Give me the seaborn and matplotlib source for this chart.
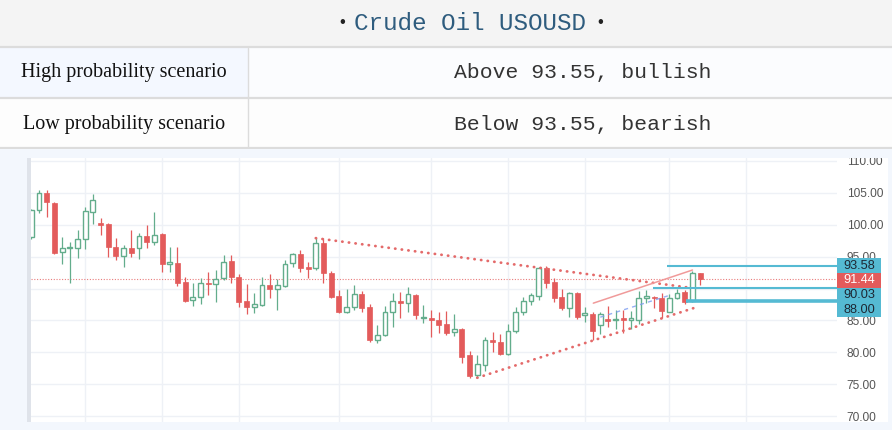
import numpy as np
import matplotlib
matplotlib.use("Agg")
import matplotlib.pyplot as plt
import seaborn as sns
from matplotlib.patches import Rectangle
from matplotlib.transforms import blended_transform_factory

# ---- data ----
opens = [98.1, 102.3, 105.0, 103.4, 95.7, 96.3, 96.4, 97.8, 102.0, 100.3,
         100.1, 96.5, 95.1, 96.4, 96.4, 98.2, 97.3, 98.5, 93.9, 94.0,
         91.0, 88.2, 88.7, 90.9, 90.7, 91.6, 94.3, 91.8, 88.0, 87.1,
         87.4, 90.5, 90.0, 90.4, 94.0, 95.4, 93.3, 93.2, 97.1, 92.4,
         88.8, 86.3, 87.1, 89.1, 87.1, 81.9, 82.7, 86.3, 88.0, 87.7,
         89.0, 85.3, 85.4, 85.1, 84.4, 83.2, 83.6, 79.6, 76.4, 78.0,
         81.9, 81.6, 79.7, 83.3, 86.3, 88.0, 88.8, 93.2, 91.0, 88.7,
         86.9, 89.3, 85.9, 86.0, 84.3, 85.2, 85.0, 85.3, 85.0, 85.1,
         88.5, 88.7, 88.5, 86.3, 88.5, 89.5, 88.0, 92.4]
highs = [102.5, 105.5, 105.5, 103.6, 98.1, 97.3, 99.2, 102.8, 104.8, 101.1,
         100.3, 97.9, 96.8, 99.2, 98.7, 100.0, 102.0, 98.7, 96.5, 96.5,
         91.8, 90.9, 91.6, 92.6, 92.9, 95.2, 95.2, 92.3, 90.7, 89.3,
         91.8, 92.3, 91.5, 94.4, 95.6, 96.0, 94.2, 97.9, 97.9, 92.7,
         89.8, 90.0, 90.5, 89.6, 87.5, 84.3, 87.3, 89.3, 89.4, 90.2,
         89.2, 87.4, 86.6, 86.3, 86.5, 86.0, 83.8, 80.2, 79.6, 82.4,
         83.2, 82.8, 84.5, 87.1, 88.6, 89.3, 93.4, 93.6, 91.7, 90.0,
         89.5, 89.5, 87.1, 86.3, 86.3, 87.3, 86.7, 86.6, 86.4, 89.6,
         89.8, 88.8, 89.3, 89.1, 89.9, 89.8, 92.7, 92.5]
lows = [97.8, 101.8, 101.2, 95.4, 93.8, 90.9, 94.8, 96.2, 100.1, 98.4,
        94.9, 94.5, 93.4, 94.9, 94.6, 96.4, 96.8, 92.6, 92.6, 90.4,
        87.9, 87.3, 87.6, 89.0, 87.9, 91.4, 90.9, 87.1, 86.0, 86.2,
        87.3, 88.5, 86.6, 90.2, 93.3, 92.6, 91.6, 92.9, 90.9, 88.5,
        86.2, 86.2, 86.6, 86.3, 81.6, 81.4, 82.5, 84.0, 85.4, 86.3,
        85.2, 84.6, 82.4, 83.0, 82.7, 82.5, 78.3, 76.0, 75.9, 77.0,
        80.0, 79.5, 79.5, 83.0, 85.8, 87.4, 88.2, 90.1, 87.9, 86.6,
        85.5, 85.2, 84.7, 82.0, 82.9, 83.9, 83.6, 83.0, 83.6, 84.4,
        87.7, 86.9, 85.3, 86.3, 88.3, 87.6, 87.9, 90.5]
closes = [102.3, 105.0, 103.6, 95.6, 96.4, 96.5, 97.8, 102.2, 103.9, 100.0,
          96.5, 95.1, 96.4, 95.6, 98.2, 97.3, 98.4, 93.8, 94.1, 90.9,
          88.0, 88.7, 90.9, 90.7, 91.5, 94.2, 91.8, 87.9, 87.1, 87.6,
          90.5, 90.0, 90.5, 93.8, 95.4, 93.2, 93.1, 97.1, 92.4, 88.7,
          86.3, 87.1, 89.1, 86.9, 81.9, 82.7, 86.3, 88.0, 87.7, 89.1,
          85.8, 85.5, 85.1, 84.3, 83.0, 83.6, 79.3, 76.3, 78.2, 81.9,
          81.6, 79.7, 83.3, 86.3, 88.0, 89.0, 93.2, 90.8, 88.5, 86.9,
          89.3, 85.5, 86.1, 83.4, 86.0, 84.9, 85.2, 85.0, 85.3, 88.5,
          88.8, 88.5, 86.5, 88.5, 89.3, 87.9, 92.4, 91.44]

price_ticks = [70, 75, 80, 85, 90, 95, 100, 105, 110]
last_price = 91.44

# support / resistance levels and the candle they start from
level_prices = [93.58, 90.03, 88.00]
level_starts = [82.7, 80.9, 85.2]

# trend lines: (start index, start price) -> (end index, end price)
upper_trend_x = [37, 85.2]
upper_trend_y = [97.9, 90.2]
lower_trend_x = [58, 86.6]
lower_trend_y = [76.0, 87.1]
channel_x = [73.1, 86.0]
channel_y = [87.7, 92.9]
mid_dash_x = [74.0, 83.2]
mid_dash_y = [85.5, 89.0]

row_labels = ["High probability scenario", "Low probability scenario"]
row_texts = ["Above 93.55, bullish", "Below 93.55, bearish"]
title = "Crude Oil USOUSD"

# ---- style ----
sns.set_theme(style="white")
plt.rcParams["font.family"] = ["Liberation Sans", "DejaVu Sans"]

UP = "#63ad8c"
DOWN = "#e35b5b"
CYAN = "#55bad3"
GRID = "#eef1f6"

W, H = 892, 430
fig = plt.figure(figsize=(W / 100, H / 100), dpi=100)

# background / table axes in pixel coordinates
bg = fig.add_axes([0, 0, 1, 1], zorder=-1)
bg.set_xlim(0, W)
bg.set_ylim(H, 0)
bg.axis("off")

bg.add_patch(Rectangle((0, 0), W, 47, color="#f4f4f4", lw=0))
bg.add_patch(Rectangle((0, 48), 248, 49, color="#f4f8ff", lw=0))
bg.add_patch(Rectangle((248, 48), W, 49, color="#fbfcfe", lw=0))
bg.add_patch(Rectangle((0, 99), W, 48, color="#fdfdfd", lw=0))
for yy in [47, 98, 148]:
    bg.plot([0, W], [yy, yy], color="#dcdcdc", lw=1.6)
bg.plot([248, 248], [48, 148], color="#dcdcdc", lw=1.0)

bg.text(469.5, 24, title, ha="center", va="center", fontsize=17.5,
        family="Liberation Mono", color="#2e5c7e")
bg.text(342, 23, "•", ha="center", va="center", fontsize=12, color="#222222")
bg.text(600, 23, "•", ha="center", va="center", fontsize=12, color="#222222")
for i, (lab, txt) in enumerate(zip(row_labels, row_texts)):
    yc = 73 + i * 51
    bg.text(124, yc, lab, ha="center", va="center", fontsize=14.5,
            family="Liberation Serif", color="#111111")
    bg.text(583, yc, txt, ha="center", va="center", fontsize=15.4,
            family="Liberation Mono", color="#333333")

# chart panel
bg.add_patch(Rectangle((0, 149), W, H - 149, color="#f3f7fd", lw=0))
bg.add_patch(Rectangle((31, 158), 888 - 31, 264, color="white", lw=0))
bg.add_patch(Rectangle((27, 158), 4, 264, color="#dfe3ea", lw=0))

# ---- candlestick axes ----
ax_left, ax_right, ax_top, ax_bot = 31, 837, 158, 422
ax = fig.add_axes([ax_left / W, (H - ax_bot) / H, (ax_right - ax_left) / W,
                   (ax_bot - ax_top) / H])
ax.set_facecolor("white")

idx = np.arange(len(opens))
o = np.array(opens)
c = np.array(closes)
up = c >= o

ax.vlines(idx[up], np.array(lows)[up], np.array(highs)[up], color=UP, lw=0.9, zorder=3)
ax.vlines(idx[~up], np.array(lows)[~up], np.array(highs)[~up], color=DOWN, lw=0.9, zorder=3)
body_lo = np.minimum(o, c)
body_h = np.maximum(np.abs(c - o), 0.15)
ax.bar(idx[up], body_h[up], bottom=body_lo[up], width=0.62,
       facecolor="white", edgecolor=UP, linewidth=1.0, zorder=4)
ax.bar(idx[~up], body_h[~up], bottom=body_lo[~up], width=0.66,
       facecolor=DOWN, edgecolor=DOWN, linewidth=0.5, zorder=4)

xmax = 104.8
ax.set_xlim(-0.05, xmax)
ax.set_ylim(69.06, 110.47)

# grid
grid_idx = [7, 17, 27, 40, 52, 62, 72, 83, 93]
for g in grid_idx:
    ax.axvline(g, color=GRID, lw=1, zorder=0)
for p in price_ticks:
    ax.axhline(p, color=GRID, lw=1, zorder=0)

# last price line
ax.axhline(last_price, color=DOWN, lw=0.8, ls=(0, (1, 1.5)), alpha=0.8, zorder=2)

# trend lines
dots = dict(color="#e46a6a", lw=2.0, ls=(0, (0.1, 2.3)), dash_capstyle="round", zorder=5)
sns.lineplot(x=upper_trend_x, y=upper_trend_y, ax=ax, **dots)
sns.lineplot(x=lower_trend_x, y=lower_trend_y, ax=ax, **dots)
sns.lineplot(x=channel_x, y=channel_y, ax=ax, color="#f09a9a", lw=1.1, zorder=5)
sns.lineplot(x=mid_dash_x, y=mid_dash_y, ax=ax, color="#7c9cf0", lw=1.0,
             ls=(0, (3, 3)), alpha=0.8, zorder=5)

# horizontal levels
for lp, ls_ in zip(level_prices, level_starts):
    lw = 2.6 if lp == min(level_prices) else 1.5
    ax.plot([ls_, xmax], [lp, lp], color=CYAN, lw=lw, zorder=6, solid_capstyle="butt")

# axis ticks on the right
ax.yaxis.tick_right()
ax.set_yticks(price_ticks)
ax.set_yticklabels([f"{p:.2f}" for p in price_ticks], fontsize=8.6, color="#555555")
ax.tick_params(axis="y", length=0, pad=7)
ax.set_xticks([])
for s in ax.spines.values():
    s.set_visible(False)

# price labels on the right, stacked so they do not overlap
trans = blended_transform_factory(ax.transAxes, ax.transData)
box_h = 2.3
box_w = 44 / (ax_right - ax_left)
labels = sorted([(lp, CYAN, "#1d2733") for lp in level_prices] +
                [(last_price, DOWN, "white")], key=lambda t: -t[0])
prev = None
for price, fc, tc in labels:
    yc = price if prev is None else min(price, prev - box_h)
    prev = yc
    ax.add_patch(Rectangle((1.0, yc - box_h / 2), box_w, box_h, transform=trans,
                           facecolor=fc, edgecolor="none", clip_on=False, zorder=8))
    ax.text(1.0 + box_w / 2, yc, f"{price:.2f}", transform=trans, ha="center",
            va="center", fontsize=9.2, color=tc, zorder=9, clip_on=False)

# top border of the panel hides the upper half of the top tick label
fig.add_artist(Rectangle((0, (H - 158) / H), 1, 9 / H, transform=fig.transFigure,
                         facecolor="#f3f7fd", edgecolor="none", zorder=5))

fig.savefig("out.png", dpi=100)
